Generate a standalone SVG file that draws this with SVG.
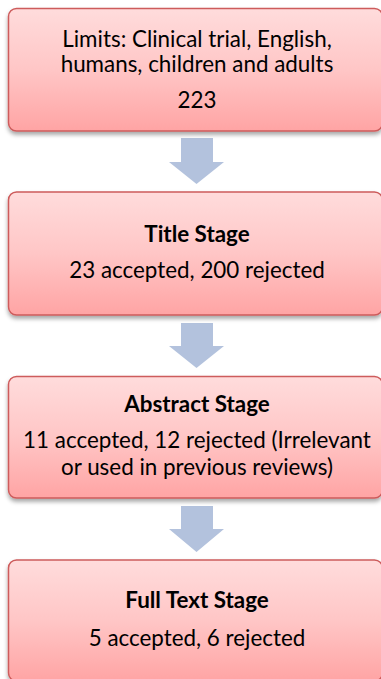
<svg xmlns="http://www.w3.org/2000/svg" width="381" height="679" viewBox="0 0 381 679">
<defs>
<linearGradient id="g" x1="0" y1="0" x2="0" y2="1">
<stop offset="0" stop-color="#FFDCDC"/>
<stop offset="0.5" stop-color="#FFC6C6"/>
<stop offset="1" stop-color="#FFA4A4"/>
</linearGradient>
<filter id="sh" x="-5%" y="-5%" width="110%" height="120%">
<feDropShadow dx="0" dy="3" stdDeviation="2" flood-color="#000" flood-opacity="0.35"/>
</filter>
</defs>
<style>
.box{fill:url(#g);stroke:#CD5B5B;stroke-width:1.5;filter:url(#sh)}
.t{font-family:Lato,"Open Sans","Liberation Sans",sans-serif;font-size:22.4px;fill:#000;text-anchor:middle}
.b{font-weight:bold}
.arr{fill:#B3C2DD}
</style>
<rect width="381" height="679" fill="#fff"/>
<g id="connectors">
<polygon class="arr" points="181,138 213,138 213,162 224,162 196.5,184 169,162 181,162"/>
<polygon class="arr" points="181,323 213,323 213,346 224,346 196.5,368 169,346 181,346"/>
<polygon class="arr" points="181,506 213,506 213,529 224,529 196.5,552 169,529 181,529"/>
</g>
<g id="n1">
<rect class="box" x="8.5" y="8.5" width="374" height="122.5" rx="8"/>
<text class="t" x="197" y="47">Limits: Clinical trial, English,</text>
<text class="t" x="197" y="72">humans, children and adults</text>
<text class="t" x="197" y="108">223</text>
</g>
<g id="n2">
<rect class="box" x="8.5" y="192" width="374" height="123" rx="8"/>
<text class="t b" x="197" y="242">Title Stage</text>
<text class="t" x="197" y="278">23 accepted, 200 rejected</text>
</g>
<g id="n3">
<rect class="box" x="8.5" y="376.5" width="374" height="121.5" rx="8"/>
<text class="t b" x="197" y="412">Abstract Stage</text>
<text class="t" x="197" y="448">11 accepted, 12 rejected (Irrelevant</text>
<text class="t" x="197" y="475">or used in previous reviews)</text>
</g>
<g id="n4">
<rect class="box" x="8.5" y="560" width="374" height="121" rx="8"/>
<text class="t b" x="197" y="608">Full Text Stage</text>
<text class="t" x="197" y="646">5 accepted, 6 rejected</text>
</g>
</svg>
